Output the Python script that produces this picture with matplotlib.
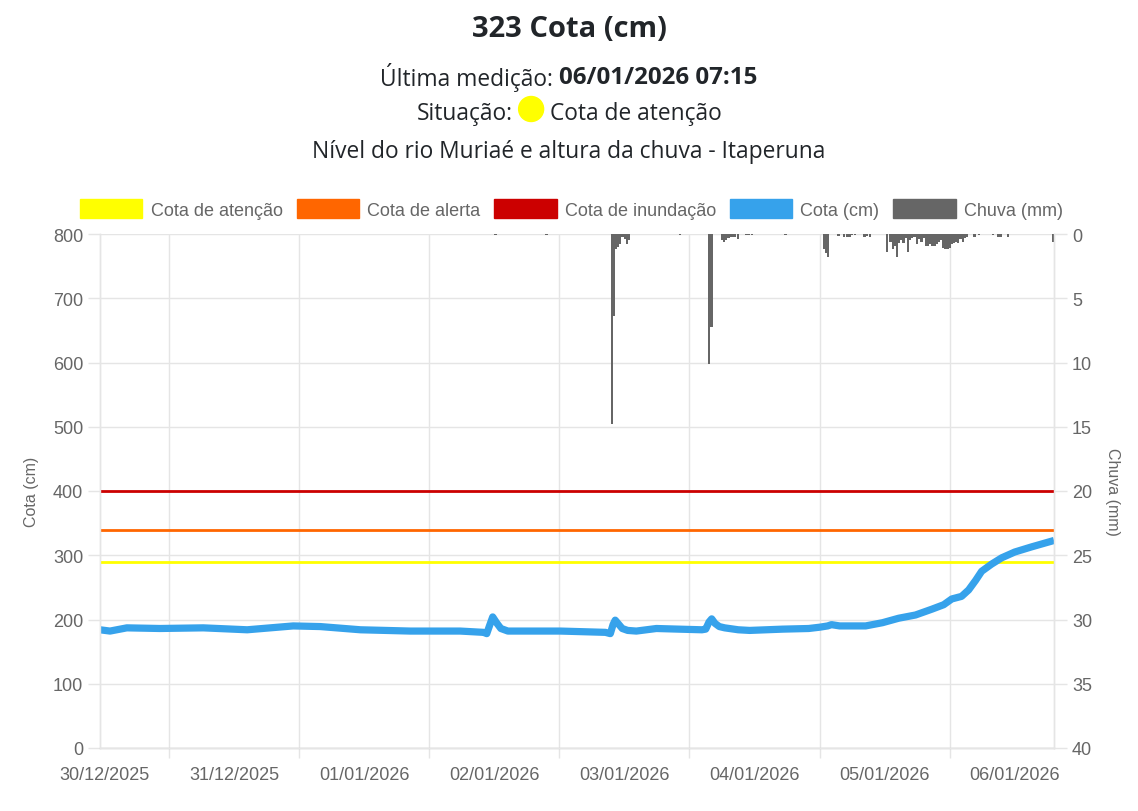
import matplotlib
matplotlib.use('Agg')
import matplotlib.pyplot as plt
from matplotlib.patches import Patch, Ellipse

# ---------------- data ----------------
# hours since 30/12/2025 00:00
cota_h = [-0.75, 1.1, 4.2, 10.3, 18.3, 26.4, 34.9, 39.9, 47.3, 56.5, 65.7, 70.0,
          70.6, 71.1, 71.7, 72.4, 73.2, 74.5, 84.2, 92.5, 93.4, 93.9, 94.3, 94.9,
          95.6, 96.6, 98.2, 101.9, 106.0, 110.3, 111.0, 111.6, 112.1, 112.7, 113.5,
          114.5, 117.0, 119.1, 125.2, 130.0, 132.0, 133.5, 134.2, 135.7, 140.5,
          143.6, 146.6, 149.7, 152.7, 154.9, 156.4, 158.2, 159.5, 160.8, 161.9,
          163.7, 165.6, 168.0, 171.1, 175.25]
cota_cm = [184, 182, 187, 186, 187, 184, 190, 189, 184, 182, 182, 180,
           178, 190, 204, 195, 186, 182, 182, 180, 178, 192, 199, 193,
           186, 183, 182, 186, 185, 184, 185, 196, 201, 194, 189,
           187, 184, 183, 185, 186, 188, 190, 192, 190, 190,
           195, 202, 207, 216, 223, 232, 236, 246, 261, 275,
           286, 296, 305, 313, 323]

rain_h = [72.2, 81.6,
          93.65, 94.1, 94.5, 94.8, 95.15, 95.5, 95.8, 96.1, 96.5, 96.8,
          106.3,
          111.6, 112.05, 114.0, 114.4, 114.8, 115.2, 115.6, 116.0, 116.4, 116.9,
          118.5, 119.0, 119.5,
          125.7,
          132.8, 133.2, 133.6, 135.5, 136.5, 137.0, 137.5, 138.0, 138.6, 140.3,
          140.8, 141.3,
          144.5, 145.1, 145.5, 145.9, 146.3, 146.7, 147.1, 147.5, 147.9, 148.3,
          148.7, 149.1, 149.5, 150.0, 150.4, 150.8, 151.2, 151.6, 152.0, 152.4,
          152.8, 153.2, 153.6, 154.0, 154.4, 154.8, 155.2, 155.6, 156.0, 156.4,
          156.8, 157.2, 157.6, 158.0, 158.4, 158.8, 159.2,
          160.6, 161.4, 164.0, 165.0, 165.5, 166.8, 175.0]
rain_mm = [0.1, 0.1,
           14.8, 6.4, 1.2, 1.0, 0.8, 0.25, 0.2, 0.4, 0.8, 0.5,
           0.1,
           10.1, 7.2, 0.5, 0.6, 0.5, 0.3, 0.25, 0.2, 0.2, 0.4,
           0.1, 0.1, 0.1,
           0.1,
           1.2, 1.5, 1.8, 0.15, 0.2, 0.25, 0.2, 0.1, 0.1, 0.2,
           0.15, 0.2,
           1.4, 0.6, 1.2, 0.9, 1.8, 0.7, 0.5, 0.7, 0.3, 1.4,
           0.5, 0.3, 0.2, 0.8, 0.4, 0.6, 0.3, 0.9, 0.9, 0.8,
           0.9, 0.9, 0.8, 0.6, 0.5, 1.1, 1.2, 1.2, 1.1, 0.8,
           0.7, 0.6, 0.7, 0.4, 0.6, 0.3, 0.2,
           0.2, 0.1, 0.1, 0.2, 0.2, 0.2, 0.6]

threshold_names = ['Cota de atenção', 'Cota de alerta', 'Cota de inundação']
threshold_values = [290, 340, 400]
threshold_colors = ['#FFFF00', '#FF6600', '#CC0000']

day_ticks = [0, 24, 48, 72, 96, 120, 144, 168]
day_labels = ['30/12/2025', '31/12/2025', '01/01/2026', '02/01/2026',
              '03/01/2026', '04/01/2026', '05/01/2026', '06/01/2026']
grid_hours = [12, 36, 60, 84, 108, 132, 156]

title_main = '323 Cota (cm)'
last_label = 'Última medição:'
last_value = '06/01/2026 07:15'
sit_label = 'Situação:'
sit_value = 'Cota de atenção'
subtitle = 'Nível do rio Muriaé e altura da chuva - Itaperuna'

# ---------------- style ----------------
W, H = 1138, 812
AX_FONT = ['Liberation Sans', 'DejaVu Sans']
TT_FONT = ['Open Sans', 'DejaVu Sans']
GRAY = '#666666'
GRID = '#e5e5e5'
TXT = '#212529'
BLUE = '#36A2EB'
RAIN = '#666666'
FS = 13
SUB = 16.4

fig = plt.figure(figsize=(W / 100, H / 100), dpi=100)
L, R, T, B = 100, 1054, 235, 749
ax = fig.add_axes([L / W, (H - B) / H, (R - L) / W, (B - T) / H])
ax2 = ax.twinx()

ax.set_xlim(-0.75, 175.25)
ax.set_ylim(0, 800)
ax2.set_ylim(40, 0)

# thresholds
for v, c in zip(threshold_values, threshold_colors):
    ax.axhline(v, color=c, lw=2.0, zorder=3)

# level line
ax.plot(cota_h, cota_cm, color=BLUE, lw=5.2, solid_joinstyle='round',
        solid_capstyle='butt', zorder=4)

# rain bars
ax2.bar(rain_h, rain_mm, width=0.42, color=RAIN, linewidth=0, zorder=2)

# grid / ticks
ax.set_axisbelow(True)
ax.set_yticks(range(0, 801, 100))
ax2.set_yticks(range(0, 41, 5))
ax.set_xticks(day_ticks)
ax.set_xticklabels(day_labels)
ax.set_xticks(grid_hours, minor=True)
ax.grid(axis='y', color=GRID, lw=1)
ax.grid(axis='x', which='minor', color=GRID, lw=1)
ax.grid(axis='x', which='major', visible=False)

ax.tick_params(axis='x', which='major', length=0, pad=13, labelsize=FS,
               labelcolor=GRAY)
ax.tick_params(axis='x', which='minor', length=7, color=GRID, width=1)
ax.tick_params(axis='y', length=9, color=GRID, width=1, pad=3,
               labelsize=FS, labelcolor=GRAY)
ax2.tick_params(axis='y', length=9, color=GRID, width=1, pad=4,
                labelsize=FS, labelcolor=GRAY)
for a in (ax, ax2):
    for lab in a.get_xticklabels() + a.get_yticklabels():
        lab.set_fontfamily(AX_FONT)
    for s in a.spines.values():
        s.set_color(GRID)
        s.set_linewidth(1)
ax.spines['bottom'].set_color('#cfcfcf')
ax.spines['top'].set_visible(False)
ax2.spines['top'].set_visible(False)

ax.set_ylabel('Cota (cm)', fontsize=11.5, color=GRAY, family=AX_FONT, labelpad=10)
ax2.set_ylabel('Chuva (mm)', fontsize=11.5, color=GRAY, family=AX_FONT,
               rotation=270, labelpad=20)

# legend
handles = [Patch(facecolor=c, edgecolor=c) for c in threshold_colors]
handles += [Patch(facecolor=BLUE, edgecolor=BLUE), Patch(facecolor=RAIN, edgecolor=RAIN)]
labels = threshold_names + ['Cota (cm)', 'Chuva (mm)']
leg = fig.legend(handles, labels, loc='center', ncol=5,
                 bbox_to_anchor=(571.5 / W, (H - 210) / H), frameon=False,
                 prop={'family': AX_FONT, 'size': FS},
                 handlelength=3.45, handleheight=1.2, handletextpad=0.45,
                 columnspacing=0.78, borderpad=0)
for t in leg.get_texts():
    t.set_color(GRAY)

# titles
renderer = fig.canvas.get_renderer()


def fy(ypx):
    return (H - ypx) / H


def rich_line(ypx, parts, gap):
    """parts: list of (kind, text/diam, weight, size)"""
    objs = []
    widths = []
    for kind, val, w, size in parts:
        if kind == 'text':
            t = fig.text(0, fy(ypx), val, fontsize=size, fontweight=w,
                         family=TT_FONT, color=TXT, ha='left', va='center_baseline')
            widths.append(t.get_window_extent(renderer).width)
            objs.append(t)
        else:
            widths.append(val)
            objs.append(val)
    total = sum(widths) + gap * (len(parts) - 1)
    x = W / 2 - total / 2
    for (kind, val, w, size), o, wd in zip(parts, objs, widths):
        if kind == 'text':
            o.set_x(x / W)
        else:
            e = Ellipse(((x + wd / 2) / W, fy(ypx - 1)), wd / W, wd / H,
                        transform=fig.transFigure, facecolor='#FFFF00',
                        edgecolor='#FFFF00')
            fig.patches.append(e)
        x += wd + gap


fig.text(0.5, fy(26), title_main, fontsize=21, fontweight='bold',
         family=TT_FONT, color=TXT, ha='center', va='center_baseline')
rich_line(75, [('text', last_label, 'normal', SUB),
               ('text', last_value, 'bold', 17.4)], 6)
rich_line(111, [('text', sit_label, 'normal', SUB), ('circle', 25, None, None),
                ('text', sit_value, 'normal', SUB)], 6)
fig.text(0.5, fy(149), subtitle, fontsize=SUB, family=TT_FONT, color=TXT,
         ha='center', va='center_baseline')

fig.savefig('out.png', dpi=100)
